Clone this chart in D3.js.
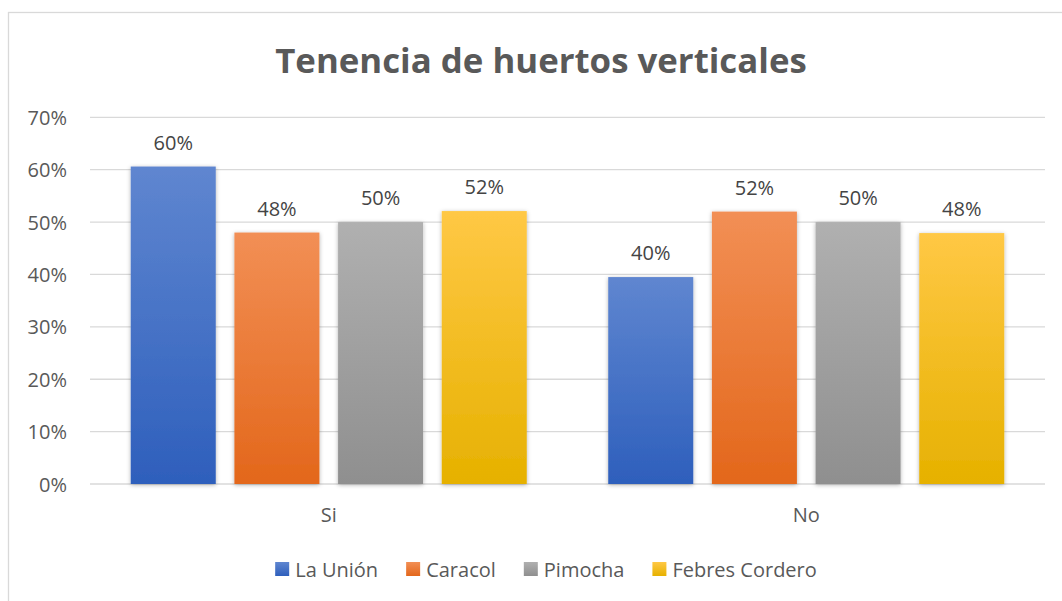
<html>
 <head>
  <meta charset="utf-8">
  <title>Tenencia de huertos verticales</title>
  <script src="https://d3js.org/d3.v7.min.js"></script>
  <style>
   body{margin:0;background:#fff;}
   text{font-family:"Open Sans",sans-serif;fill:#595959;}
  </style>
 </head>
 <body>
  <svg></svg>
  <script>
    var svgWidth=1062,svgHeight=601;

    // data
    var categories=["Si","No"];
    var series=["La Unión","Caracol","Pimocha","Febres Cordero"];
    var siValues=[60.6,48.0,50.0,52.1];
    var noValues=[39.5,52.0,50.0,47.9];
    var yTicks=[0,10,20,30,40,50,60,70];
    var valueLabels=[["60%","48%","50%","52%"],["40%","52%","50%","48%"]];
    var allValues=[siValues,noValues];

    var gradTop=["#5f86d0","#f28f55","#b0b0b0","#ffc845"];
    var gradBottom=["#2e5fbc","#e3671b","#8f8f8f","#e6b100"];

    var svg=d3.select("svg").attr("width",svgWidth).attr("height",svgHeight)
              .style("background","#fff");

    var defs=svg.append("defs");
    series.forEach(function(s,i){
      var g=defs.append("linearGradient").attr("id","grad"+i)
               .attr("x1",0).attr("y1",0).attr("x2",0).attr("y2",1);
      g.append("stop").attr("offset","0%").attr("stop-color",gradTop[i]);
      g.append("stop").attr("offset","100%").attr("stop-color",gradBottom[i]);
    });
    var f=defs.append("filter").attr("id","shadow").attr("x","-20%").attr("y","-20%")
             .attr("width","140%").attr("height","140%");
    f.append("feDropShadow").attr("dx",0).attr("dy",1).attr("stdDeviation",2.2)
     .attr("flood-color","#000").attr("flood-opacity",0.3);

    // chart border (cut off on right and bottom like the picture)
    svg.append("rect").attr("x",8.5).attr("y",12.5).attr("width",1100).attr("height",700)
       .attr("fill","none").attr("stroke","#d9d9d9").attr("stroke-width",1.3);

    svg.append("text").attr("x",541).attr("y",73).attr("text-anchor","middle")
       .style("font-size","34.8px").style("font-weight","bold")
       .text("Tenencia de huertos verticales");

    var x0=d3.scaleBand().domain(categories).range([90,1045]).padding(0);
    var x1=d3.scaleBand().domain(series).range([0,x0.bandwidth()])
             .paddingInner(0.18).paddingOuter(0.393);
    var y=d3.scaleLinear().domain([0,70]).range([484,117.3]);

    // gridlines
    svg.append("g").selectAll("line").data(yTicks).enter().append("line")
       .attr("x1",90).attr("x2",1045)
       .attr("y1",function(d){return y(d);}).attr("y2",function(d){return y(d);})
       .attr("stroke","#d9d9d9").attr("stroke-width",1.3);

    var yAxis=svg.append("g").attr("transform","translate(90,0)")
       .call(d3.axisLeft(y).tickValues(yTicks).tickSize(0).tickPadding(23)
             .tickFormat(function(d){return d+"%";}));
    yAxis.select(".domain").remove();
    yAxis.selectAll("text").style("font-size","20px").style("font-family","Open Sans")
         .attr("fill","#595959").attr("dy","0.35em");

    var xAxis=svg.append("g").attr("transform","translate(0,484)")
       .call(d3.axisBottom(x0).tickSize(0).tickPadding(24));
    xAxis.select(".domain").remove();
    xAxis.selectAll("text").style("font-size","20px").style("font-family","Open Sans")
         .attr("fill","#595959");

    var groups=svg.append("g").selectAll("g").data(categories).enter().append("g")
       .attr("transform",function(d){return "translate("+x0(d)+",0)";});

    groups.selectAll("rect").data(function(d,ci){
        return series.map(function(s,si){return {s:s,si:si,v:allValues[ci][si],label:valueLabels[ci][si]};});
      }).enter().append("rect")
       .attr("x",function(d){return x1(d.s);})
       .attr("width",x1.bandwidth())
       .attr("y",function(d){return y(d.v);})
       .attr("height",function(d){return y(0)-y(d.v);})
       .attr("fill",function(d){return "url(#grad"+d.si+")";})
       .attr("filter","url(#shadow)");

    groups.selectAll("text.val").data(function(d,ci){
        return series.map(function(s,si){return {s:s,v:allValues[ci][si],label:valueLabels[ci][si]};});
      }).enter().append("text").attr("class","val")
       .attr("x",function(d){return x1(d.s)+x1.bandwidth()/2;})
       .attr("y",function(d){return y(d.v)-17;})
       .attr("text-anchor","middle").style("font-size","20px").style("fill","#444")
       .text(function(d){return d.label;});

    // legend
    var legend=svg.append("g");
    var items=legend.selectAll("g").data(series).enter().append("g");
    items.append("rect").attr("width",14).attr("height",14).attr("y",-15)
         .attr("fill",function(d,i){return "url(#grad"+i+")";});
    items.append("text").attr("x",20).attr("y",0).style("font-size","20px")
         .text(function(d){return d;});
    var pos=0;
    items.each(function(){
      var w=d3.select(this).select("text").node().getComputedTextLength();
      d3.select(this).attr("transform","translate("+pos+",0)");
      pos+=20+w+28;
    });
    pos-=28;
    legend.attr("transform","translate("+(546-pos/2)+",577)");
  </script>
 </body>
</html>
